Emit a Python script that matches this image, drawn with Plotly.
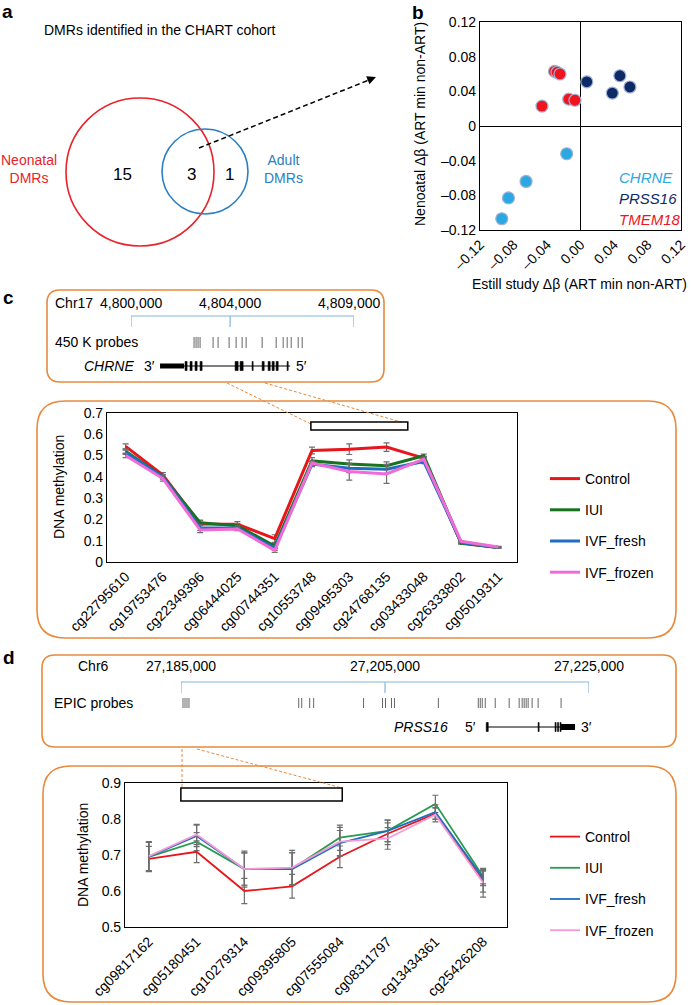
import plotly.graph_objects as go

W, H = 691, 1005
FONT = "Liberation Sans, Arial, Helvetica, sans-serif"

# ---------------- data ----------------
# panel a
venn_title = "DMRs identified in the CHART cohort"
venn_labels = ["Neonatal<br>DMRs", "Adult<br>DMRs"]
venn_counts = [15, 3, 1]  # neonatal only, both, adult only

# panel b
b_genes = ["CHRNE", "PRSS16", "TMEM18"]
chrne_x = [-0.0165, -0.065, -0.086, -0.094]
chrne_y = [-0.032, -0.064, -0.083, -0.107]
prss16_x = [0.0075, 0.047, 0.038, 0.059]
prss16_y = [0.051, 0.058, 0.038, 0.045]
tmem18_x = [-0.046, -0.014, -0.0066, -0.031, -0.028, -0.0245]
tmem18_y = [0.023, 0.031, 0.0297, 0.063, 0.062, 0.060]
b_ticks = [-0.12, -0.08, -0.04, 0, 0.04, 0.08, 0.12]
b_xticktext = ["\u20130.12", "\u20130.08", "\u20130.04", "0.00", "0.04", "0.08", "0.12"]
b_yticktext = ["\u20130.12", "\u20130.08", "\u20130.04", "0", "0.04", "0.08", "0.12"]

groups = ["Control", "IUI", "IVF_fresh", "IVF_frozen"]

# panel c
c_chrom = "Chr17"
c_ruler = [4800000, 4804000, 4809000]
c_ruler_text = ["4,800,000", "4,804,000", "4,809,000"]
c_probe_pos = [4802545, 4802626, 4802707, 4802788, 4803313, 4803515, 4803960, 4804242,
               4804485, 4804646, 4805293, 4805859, 4806141, 4806303, 4806465, 4806747, 4806909]
c_gene = "CHRNE"
c_gene_span = [4801172, 4806424]
c_utr = [[4801172, 4802141]]
c_exons = [[4802182, 4802263], [4802384, 4802465], [4802586, 4802667], [4802788, 4802869],
           [4804202, 4804323], [4804404, 4804525], [4804889, 4804929],
           [4805293, 4805374], [4805535, 4805616], [4805697, 4805778], [4805859, 4805939],
           [4806303, 4806343]]
c_probes = ["cg22795610", "cg19753476", "cg22349396", "cg06444025", "cg00744351", "cg10553748",
            "cg09495303", "cg24768135", "cg03433048", "cg26333802", "cg05019311"]
c_control = [0.543, 0.408, 0.178, 0.177, 0.110, 0.524, 0.530, 0.540, 0.488, 0.090, 0.068]
c_iui = [0.520, 0.400, 0.185, 0.170, 0.075, 0.475, 0.460, 0.452, 0.499, 0.088, 0.068]
c_fresh = [0.515, 0.400, 0.160, 0.160, 0.065, 0.460, 0.440, 0.436, 0.472, 0.092, 0.068]
c_frozen = [0.500, 0.392, 0.150, 0.155, 0.055, 0.465, 0.425, 0.414, 0.483, 0.097, 0.070]
c_control_err = [0.012, 0.012, 0.015, 0.013, 0.018, 0.016, 0.025, 0.020, 0.008, 0.004, 0.003]
c_iui_err = [0.010, 0.010, 0.012, 0.010, 0.012, 0.015, 0.020, 0.018, 0.008, 0.004, 0.003]
c_fresh_err = [0.010, 0.010, 0.012, 0.010, 0.010, 0.012, 0.020, 0.020, 0.010, 0.004, 0.003]
c_frozen_err = [0.010, 0.012, 0.012, 0.008, 0.010, 0.010, 0.040, 0.045, 0.010, 0.004, 0.003]
c_region = [4.97, 7.57, 0.62, 0.658]  # highlighted probe window (x idx0, idx1, y0, y1)

# panel d
d_chrom = "Chr6"
d_ruler = [27185000, 27205000, 27225000]
d_ruler_text = ["27,185,000", "27,205,000", "27,225,000"]
d_probe_pos = [27185196, 27185391, 27185587, 27185782,
               27196540, 27196834, 27197616, 27198007, 27202897,
               27204756, 27205049, 27205636, 27205929, 27210232,
               27214144, 27214340, 27214535, 27214829, 27215807, 27217176,
               27218154, 27218447, 27218643, 27218839, 27219034, 27219425, 27220012, 27222262]
d_gene = "PRSS16"
d_gene_span = [27214927, 27223631]
d_utr = [[27222262, 27223631]]
d_exons = [[27214927, 27215122], [27220013, 27220110], [27221675, 27221773],
           [27221920, 27222018], [27222164, 27222262]]
d_probes = ["cg09817162", "cg05180451", "cg10279314", "cg09395805", "cg07555084",
            "cg08311797", "cg13434361", "cg25426208"]
d_control = [0.689, 0.709, 0.600, 0.613, 0.695, 0.759, 0.815, 0.627]
d_iui = [0.695, 0.737, 0.661, 0.662, 0.748, 0.767, 0.842, 0.640]
d_fresh = [0.695, 0.753, 0.661, 0.661, 0.733, 0.767, 0.819, 0.635]
d_frozen = [0.697, 0.757, 0.661, 0.665, 0.737, 0.746, 0.812, 0.623]
d_control_err = [0.035, 0.030, 0.035, 0.033, 0.030, 0.030, 0.015, 0.030]
d_iui_err = [0.040, 0.025, 0.050, 0.045, 0.035, 0.030, 0.024, 0.020]
d_fresh_err = [0.040, 0.030, 0.045, 0.045, 0.035, 0.030, 0.020, 0.020]
d_frozen_err = [0.040, 0.028, 0.045, 0.048, 0.040, 0.030, 0.020, 0.040]
d_region = [0.67, 4.05, 0.85, 0.886]

# ---------------- styles ----------------
RED, BLUE = "#e8232a", "#2b7fc1"
ORANGE = "#e8893c"
RULER = "#86b5dd"
b_colors = ["#2aa8e2", "#0d2a66", "#f0141c"]
c_colors = ["#e8151b", "#17731f", "#1f6dbf", "#f06ad8"]
d_colors = ["#e8151b", "#2a9a4e", "#1f6dbf", "#f59ad6"]


def fx(px):
    return px / W


def fy(py):
    return 1 - py / H


fig = go.Figure()

# canvas anchor trace
fig.add_trace(go.Scatter(x=[None], y=[None], xaxis="x4", yaxis="y4", showlegend=False))

# ---- panel b ----
for gname, xs, ys, col in zip(b_genes, [chrne_x, prss16_x, tmem18_x], [chrne_y, prss16_y, tmem18_y], b_colors):
    fig.add_trace(go.Scatter(x=xs, y=ys, mode="markers", name=gname, showlegend=False,
                             marker=dict(size=12, color=col, line=dict(color="#9fb0d6", width=1.2)),
                             xaxis="x", yaxis="y"))

# ---- panel c ----
c_vals = [c_control, c_iui, c_fresh, c_frozen]
c_errs = [c_control_err, c_iui_err, c_fresh_err, c_frozen_err]
for g, v, e, col in zip(groups, c_vals, c_errs, c_colors):
    fig.add_trace(go.Scatter(x=c_probes, y=v, mode="lines", name=g, legend="legend", legendgroup="c" + g,
                             line=dict(color=col, width=3),
                             error_y=dict(type="data", array=e, color="#6e6e6e", thickness=1.2, width=3),
                             xaxis="x2", yaxis="y2"))

# ---- panel d ----
d_vals = [d_control, d_iui, d_fresh, d_frozen]
d_errs = [d_control_err, d_iui_err, d_fresh_err, d_frozen_err]
for g, v, e, col in zip(groups, d_vals, d_errs, d_colors):
    fig.add_trace(go.Scatter(x=d_probes, y=v, mode="lines", name=g, legend="legend2", legendgroup="d" + g,
                             line=dict(color=col, width=1.8),
                             error_y=dict(type="data", array=e, color="#6e6e6e", thickness=1.2, width=3),
                             xaxis="x3", yaxis="y3"))


# ---- probe ticks (genome tracks) ----
def tick_xy(positions, y0, y1):
    xs, ys = [], []
    for p in positions:
        xs += [p, p, None]
        ys += [y0, y1, None]
    return xs, ys


px_, py_ = tick_xy(c_probe_pos, 337, 348)
fig.add_trace(go.Scatter(x=px_, y=py_, mode="lines", line=dict(color="#555555", width=0.9),
                         showlegend=False, hoverinfo="skip", xaxis="x5", yaxis="y4"))
px_, py_ = tick_xy(d_probe_pos, 698, 708)
fig.add_trace(go.Scatter(x=px_, y=py_, mode="lines", line=dict(color="#555555", width=0.9),
                         showlegend=False, hoverinfo="skip", xaxis="x6", yaxis="y4"))

shapes = []
annotations = []


def rrect(x0, y0, x1, y1, r):
    return (f"M{x0 + r},{y0} L{x1 - r},{y0} Q{x1},{y0} {x1},{y0 + r} L{x1},{y1 - r} "
            f"Q{x1},{y1} {x1 - r},{y1} L{x0 + r},{y1} Q{x0},{y1} {x0},{y1 - r} "
            f"L{x0},{y0 + r} Q{x0},{y0} {x0 + r},{y0} Z")


def ann(text, x, y, size=14, color="black", xanchor="center", xref="x4", yref="y4", angle=0, xshift=0):
    annotations.append(dict(text=text, x=x, y=y, xref=xref, yref=yref, showarrow=False,
                            font=dict(size=size, color=color, family=FONT), xanchor=xanchor,
                            yanchor="middle", textangle=angle, xshift=xshift))


# panel letters
ann("<b>a</b>", 0, 11, size=19, xanchor="left")
ann("<b>b</b>", 410, 12, size=19, xanchor="left")
ann("<b>c</b>", 1, 297, size=19, xanchor="left")
ann("<b>d</b>", 1, 657, size=19, xanchor="left")

# ---- panel a: venn ----
shapes.append(dict(type="circle", xref="x4", yref="y4", x0=66, x1=214, y0=98, y1=246,
                   line=dict(color=RED, width=1.6)))
shapes.append(dict(type="circle", xref="x4", yref="y4", x0=162, x1=248, y0=129, y1=214,
                   line=dict(color=BLUE, width=1.6)))
ann(venn_title, 42, 30, size=14, xanchor="left")
ann(venn_labels[0], 29, 169, size=14, color=RED)
ann(venn_labels[1], 283, 169, size=14, color=BLUE)
ann(str(venn_counts[0]), 122, 174, size=17)
ann(str(venn_counts[1]), 191, 174, size=17)
ann(str(venn_counts[2]), 229, 174, size=17)
shapes.append(dict(type="line", xref="x4", yref="y4", x0=199, y0=148, x1=369, y1=80,
                   line=dict(color="black", width=1.5, dash="5px,3px")))
annotations.append(dict(x=376, y=77, ax=366, ay=81, xref="x4", yref="y4", axref="x4", ayref="y4",
                        showarrow=True, arrowhead=2, arrowsize=1.1, arrowwidth=1.6, arrowcolor="black", text=""))

# ---- panel b text ----
ann("Nenoatal \u0394\u03b2 (ART min non-ART)", 420, 124, size=14, angle=-90)
ann("Estill study \u0394\u03b2 (ART min non-ART)", 579, 284, size=14)
for i, (gname, col) in enumerate(zip(b_genes, b_colors)):
    ann(f"<i>{gname}</i>", 617, 177 + i * 21, size=15, color=col, xanchor="left")

# ---- panel c track ----
shapes.append(dict(type="path", xref="x4", yref="y4", path=rrect(47, 290, 384, 382, 13),
                   line=dict(color=ORANGE, width=1.6)))
ann(c_chrom, 53, 303, xanchor="left")
for pos, txt in zip(c_ruler, c_ruler_text):
    ann(txt, pos, 303, xref="x5", xshift=-5 if pos == c_ruler[-1] else 0)
shapes.append(dict(type="line", xref="x5", yref="y4", x0=c_ruler[0], x1=c_ruler[-1], y0=316, y1=316,
                   line=dict(color=RULER, width=1.2)))
for pos in c_ruler:
    shapes.append(dict(type="line", xref="x5", yref="y4", x0=pos, x1=pos, y0=316, y1=327,
                       line=dict(color=RULER, width=1.2)))
ann("450 K probes", 53, 342, xanchor="left")
ann(f"<i>{c_gene}</i>", 136, 366, xanchor="right")
ann("3\u2032", 142, 366, xanchor="left")
ann("5\u2032", 294, 366, xanchor="left")
shapes.append(dict(type="line", xref="x5", yref="y4", x0=c_gene_span[0], x1=c_gene_span[1], y0=366, y1=366,
                   line=dict(color="black", width=1)))
for a, b in c_utr:
    shapes.append(dict(type="rect", xref="x5", yref="y4", x0=a, x1=b, y0=363.5, y1=368.5,
                       fillcolor="black", line=dict(width=0)))
for a, b in c_exons:
    shapes.append(dict(type="rect", xref="x5", yref="y4", x0=a, x1=b, y0=361.5, y1=370.5,
                       fillcolor="black", line=dict(color="black", width=0.6)))

# ---- panel c plot box ----
shapes.append(dict(type="path", xref="x4", yref="y4", path=rrect(37, 401, 676, 638, 28),
                   line=dict(color=ORANGE, width=1.6)))
shapes.append(dict(type="line", xref="x4", yref="y4", x0=227, y0=383, x1=311, y1=424,
                   line=dict(color=ORANGE, width=1, dash="3px,2px")))
shapes.append(dict(type="line", xref="x4", yref="y4", x0=265, y0=383, x1=408, y1=424,
                   line=dict(color=ORANGE, width=1, dash="3px,2px")))
shapes.append(dict(type="rect", xref="x2", yref="y2", x0=c_region[0], x1=c_region[1],
                   y0=c_region[2], y1=c_region[3], fillcolor="white", line=dict(color="black", width=1.5)))
ann("DNA methylation", 59, 487, size=14, angle=-90)

# ---- panel d track ----
shapes.append(dict(type="path", xref="x4", yref="y4", path=rrect(42, 655, 676, 747, 13),
                   line=dict(color=ORANGE, width=1.6)))
ann(d_chrom, 76, 666, xanchor="left")
for pos, txt in zip(d_ruler, d_ruler_text):
    ann(txt, pos, 666, xref="x6")
shapes.append(dict(type="line", xref="x6", yref="y4", x0=d_ruler[0], x1=d_ruler[-1], y0=682, y1=682,
                   line=dict(color=RULER, width=1.2)))
for pos in d_ruler:
    shapes.append(dict(type="line", xref="x6", yref="y4", x0=pos, x1=pos, y0=682, y1=693,
                       line=dict(color=RULER, width=1.2)))
ann("EPIC probes", 52, 703, xanchor="left")
ann(f"<i>{d_gene}</i>", 450, 727, xanchor="right")
ann("5\u2032", 463, 727, xanchor="left")
ann("3\u2032", 579, 727, xanchor="left")
shapes.append(dict(type="line", xref="x6", yref="y4", x0=d_gene_span[0], x1=d_gene_span[1], y0=727, y1=727,
                   line=dict(color="black", width=1)))
for a, b in d_utr:
    shapes.append(dict(type="rect", xref="x6", yref="y4", x0=a, x1=b, y0=724, y1=730,
                       fillcolor="black", line=dict(width=0)))
for a, b in d_exons:
    shapes.append(dict(type="rect", xref="x6", yref="y4", x0=a, x1=b, y0=722.5, y1=731.5,
                       fillcolor="black", line=dict(color="black", width=0.6)))

# ---- panel d plot box ----
shapes.append(dict(type="path", xref="x4", yref="y4", path=rrect(43, 766, 676, 1002, 28),
                   line=dict(color=ORANGE, width=1.6)))
shapes.append(dict(type="line", xref="x4", yref="y4", x0=182, y0=749, x1=182, y1=788,
                   line=dict(color=ORANGE, width=1, dash="3px,2px")))
shapes.append(dict(type="line", xref="x4", yref="y4", x0=197, y0=749, x1=342, y1=788,
                   line=dict(color=ORANGE, width=1, dash="3px,2px")))
shapes.append(dict(type="rect", xref="x3", yref="y3", x0=d_region[0], x1=d_region[1],
                   y0=d_region[2], y1=d_region[3], fillcolor="white", line=dict(color="black", width=1.5)))
ann("DNA methylation", 83, 855, size=14, angle=-90)

frame = dict(showline=True, mirror=True, linecolor="black", linewidth=1.2, showgrid=False,
             zeroline=False, ticks="", automargin=False,
             tickfont=dict(size=14, family=FONT, color="black"))
hidden = dict(visible=False, automargin=False, fixedrange=True)

fig.update_layout(
    template="none",
    width=W, height=H, autosize=False, margin=dict(l=0, r=0, t=0, b=0, pad=0),
    paper_bgcolor="white", plot_bgcolor="rgba(0,0,0,0)",
    font=dict(family=FONT, size=14, color="black"),
    xaxis=dict(domain=[fx(480), fx(681)], range=[-0.12, 0.12], tickvals=b_ticks, ticktext=b_xticktext,
               tickangle=-45, anchor="y", **{**frame, "zeroline": True}, zerolinecolor="black", zerolinewidth=1.2),
    yaxis=dict(domain=[fy(230), fy(22)], range=[-0.12, 0.12], tickvals=b_ticks, ticktext=b_yticktext,
               anchor="x", **{**frame, "zeroline": True}, zerolinecolor="black", zerolinewidth=1.2),
    xaxis2=dict(domain=[fx(107), fx(517)], type="category", range=[-0.5, len(c_probes) - 0.5],
                tickangle=-45, anchor="y2", **frame),
    yaxis2=dict(domain=[fy(562), fy(413)], range=[0, 0.7], dtick=0.1, tick0=0, anchor="x2", **frame),
    xaxis3=dict(domain=[fx(125), fx(507)], type="category", range=[-0.5, len(d_probes) - 0.5],
                tickangle=-45, anchor="y3", **frame),
    yaxis3=dict(domain=[fy(927), fy(783)], range=[0.5, 0.9], dtick=0.1, tick0=0.5, anchor="x3", **frame),
    xaxis4=dict(domain=[0, 1], range=[0, W], anchor="y4", **hidden),
    yaxis4=dict(domain=[0, 1], range=[H, 0], anchor="x4", **hidden),
    xaxis5=dict(domain=[fx(131), fx(354)], range=[c_ruler[0], c_ruler[-1]], anchor="y4", **hidden),
    xaxis6=dict(domain=[fx(181), fx(589)], range=[d_ruler[0], d_ruler[-1]], anchor="y4", **hidden),
    legend=dict(x=fx(545), y=fy(463), xanchor="left", yanchor="top", font=dict(size=14), tracegroupgap=10,
                itemwidth=30, bgcolor="rgba(0,0,0,0)"),
    legend2=dict(x=fx(545), y=fy(821), xanchor="left", yanchor="top", font=dict(size=14), tracegroupgap=10,
                 itemwidth=30, bgcolor="rgba(0,0,0,0)"),
    shapes=shapes, annotations=annotations,
)

fig.write_html("out.html", config={"displayModeBar": False},
               post_script="document.body.style.margin='0px';document.body.style.padding='0px';")
